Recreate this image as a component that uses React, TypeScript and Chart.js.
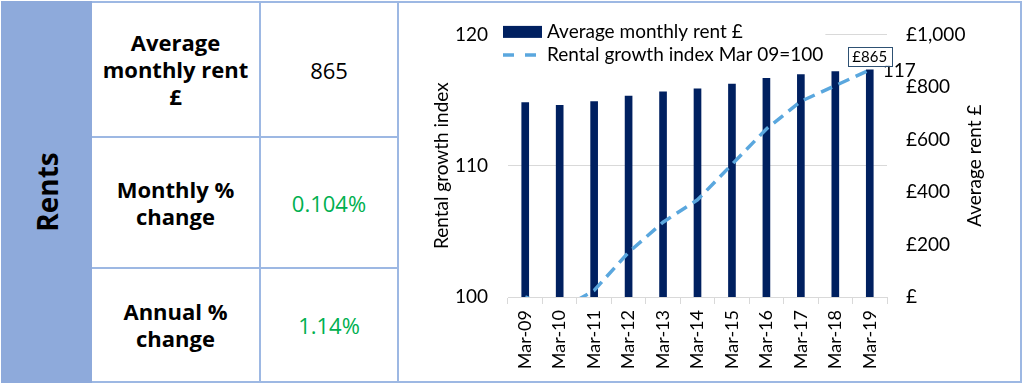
import React, { useEffect, useRef } from 'react';
import { Chart, registerables } from 'chart.js';

Chart.register(...registerables);

// ---- Data ----
const categories = ['Mar-09', 'Mar-10', 'Mar-11', 'Mar-12', 'Mar-13', 'Mar-14', 'Mar-15', 'Mar-16', 'Mar-17', 'Mar-18', 'Mar-19'];
const averageRent = [740, 730, 744, 765, 781, 793, 811, 833, 847, 858, 865];
const growthIndex = [100, 99.0, 100.5, 103.4, 105.7, 107.4, 110.1, 112.8, 114.9, 116.1, 117.3];
const indexTicks = [100, 110, 120];
const rentTicks = [0, 200, 400, 600, 800, 1000];
const rentTickLabels = ['£', '£200', '£400', '£600', '£800', '£1,000'];
const rentSeriesLabel = 'Average monthly rent £';
const indexSeriesLabel = 'Rental growth index Mar 09=100';
const leftAxisTitle = 'Rental growth index';
const rightAxisTitle = 'Average rent £';
const sectionTitle = 'Rents';
const rowLabels = [['Average', 'monthly rent', '£'], ['Monthly %', 'change'], ['Annual %', 'change']];
const rowValues = ['865', '0.104%', '1.14%'];
const rowValueColors = ['#000000', '#00b050', '#00b050'];

const BAR_COLOR = '#002060';
const LINE_COLOR = '#5aa7de';
const FONT = 'Lato';
const BORDER = '#9db8e3';

const overlayPlugin = {
  id: 'overlay',
  afterDatasetsDraw(chart: any) {
    const { ctx, chartArea } = chart;
    ctx.save();
    // legend
    ctx.font = `19px ${FONT}`;
    const x0 = chartArea.left - 5;
    const textX = chartArea.left + 39;
    const r1 = chartArea.top - 2.5;
    const r2 = chartArea.top + 20.5;
    const tw = Math.max(ctx.measureText(rentSeriesLabel).width, ctx.measureText(indexSeriesLabel).width);
    ctx.fillStyle = '#ffffff';
    ctx.fillRect(x0, r1 - 11, textX + tw + 2 - x0, r2 + 11 - (r1 - 11));
    ctx.fillStyle = BAR_COLOR;
    ctx.fillRect(x0, r1 - 6, 39, 12);
    ctx.strokeStyle = LINE_COLOR;
    ctx.lineWidth = 3.5;
    ctx.setLineDash([11, 11]);
    ctx.beginPath();
    ctx.moveTo(x0, r2);
    ctx.lineTo(x0 + 36, r2);
    ctx.stroke();
    ctx.setLineDash([]);
    ctx.fillStyle = '#000';
    ctx.textAlign = 'left';
    ctx.textBaseline = 'middle';
    ctx.fillText(rentSeriesLabel, textX, r1);
    ctx.fillText(indexSeriesLabel, textX, r2);

    // data label for last line point
    const lineMeta = chart.getDatasetMeta(0);
    const lastIdx = growthIndex.length - 1;
    const lp = lineMeta.data[lastIdx];
    ctx.fillText(String(Math.round(growthIndex[lastIdx])), lp.x + 13, lp.y + 1);

    // data label box for last bar
    const barMeta = chart.getDatasetMeta(1);
    const bp = barMeta.data[lastIdx];
    ctx.font = `15px ${FONT}`;
    const label = '£' + averageRent[lastIdx].toLocaleString('en-GB');
    const w = ctx.measureText(label).width + 9;
    const h = 19;
    const bx = bp.x - w / 2;
    const by = bp.y - 4 - h;
    ctx.fillStyle = '#fff';
    ctx.fillRect(bx, by, w, h);
    ctx.strokeStyle = '#2e5173';
    ctx.lineWidth = 1;
    ctx.strokeRect(Math.round(bx) + 0.5, Math.round(by) + 0.5, Math.round(w), h);
    ctx.fillStyle = '#000';
    ctx.textAlign = 'center';
    ctx.fillText(label, bp.x, by + h / 2 + 0.5);

    // right axis title (reads bottom to top)
    ctx.font = `19px ${FONT}`;
    ctx.translate(575, (chartArea.top + chartArea.bottom) / 2);
    ctx.rotate(-Math.PI / 2);
    ctx.textAlign = 'center';
    ctx.textBaseline = 'middle';
    ctx.fillText(rightAxisTitle, 0, 0);
    ctx.restore();
  },
};

function RentChart() {
  const ref = useRef<HTMLCanvasElement | null>(null);
  useEffect(() => {
    if (!ref.current) return;
    const tickFont = { family: FONT, size: 19 };
    const chart = new Chart(ref.current, {
      type: 'bar',
      data: {
        labels: categories,
        datasets: [
          {
            type: 'line',
            label: indexSeriesLabel,
            data: growthIndex,
            yAxisID: 'y',
            borderColor: LINE_COLOR,
            borderWidth: 3.5,
            borderDash: [12, 7],
            pointRadius: 0,
            tension: 0,
            fill: false,
            order: 0,
          } as any,
          {
            type: 'bar',
            label: rentSeriesLabel,
            data: averageRent,
            yAxisID: 'y1',
            backgroundColor: BAR_COLOR,
            barThickness: 7,
            order: 1,
          } as any,
        ],
      },
      options: {
        animation: false,
        responsive: false,
        layout: { padding: { top: 30, left: 0, right: 0, bottom: 0 } },
        plugins: { legend: { display: false }, tooltip: { enabled: false } },
        scales: {
          x: {
            type: 'category',
            offset: true,
            grid: { offset: true, drawOnChartArea: false, drawTicks: true, tickLength: 7, color: '#d9d9d9' },
            border: { display: true, color: '#d9d9d9' },
            ticks: { minRotation: 90, maxRotation: 90, autoSkip: false, padding: 6, color: '#000', font: { family: FONT, size: 18 } },
            afterFit: (s: any) => { s.height = 85; },
          },
          y: {
            position: 'left',
            min: 100,
            max: 120,
            afterBuildTicks: (s: any) => { s.ticks = indexTicks.map((v) => ({ value: v })); },
            grid: { color: '#d9d9d9', drawTicks: false },
            border: { display: false },
            ticks: { padding: 20, color: '#000', font: tickFont },
            title: { display: true, text: leftAxisTitle, color: '#000', font: tickFont, padding: { top: 30, bottom: 0 } },
            afterFit: (s: any) => { s.width = 108; },
          },
          y1: {
            position: 'right',
            min: 0,
            max: 1000,
            afterBuildTicks: (s: any) => { s.ticks = rentTicks.map((v) => ({ value: v })); },
            grid: { display: false, drawTicks: false },
            border: { display: false },
            ticks: {
              padding: 19,
              color: '#000',
              font: tickFont,
              callback: (_v: any, i: number) => rentTickLabels[i],
            },
            afterFit: (s: any) => { s.width = 133; },
          },
        },
      } as any,
      plugins: [overlayPlugin],
    });
    return () => chart.destroy();
  }, []);
  return <canvas ref={ref} width={620} height={379} style={{ display: 'block', width: 620, height: 379 }} />;
}

export default function App() {
  const rowTops = [3, 138, 269];
  const rowHeights = [133, 129, 112];
  const line = (s: React.CSSProperties) => <div style={{ position: 'absolute', background: BORDER, ...s }} />;
  return (
    <div style={{ position: 'absolute', left: 0, top: 0, width: 1024, height: 386, background: '#fff', fontFamily: '"Open Sans", sans-serif', overflow: 'hidden' }}>
      <div style={{ position: 'absolute', left: 1, top: 1, width: 1021, height: 382, border: `2px solid ${BORDER}`, boxSizing: 'border-box' }} />
      <div style={{ position: 'absolute', left: 1, top: 1, width: 91, height: 382, background: '#8eaadb' }} />
      {line({ left: 259, top: 1, width: 2, height: 382 })}
      {line({ left: 397, top: 1, width: 2, height: 382 })}
      {line({ left: 92, top: 136, width: 307, height: 2 })}
      {line({ left: 92, top: 267, width: 307, height: 2 })}
      <div style={{ position: 'absolute', left: 47, top: 192, transform: 'translate(-50%, -50%) rotate(-90deg)', fontSize: 28, fontWeight: 700, color: '#000', whiteSpace: 'nowrap' }}>{sectionTitle}</div>
      {rowLabels.map((lines, i) => (
        <div key={'l' + i} style={{ position: 'absolute', left: 92, top: rowTops[i], width: 167, height: rowHeights[i], display: 'flex', alignItems: 'center', justifyContent: 'center', textAlign: 'center', flexDirection: 'column', fontWeight: 700, fontSize: 22, lineHeight: '27px', color: '#000' }}>
          {lines.map((t, j) => <div key={j} style={{ whiteSpace: 'nowrap' }}>{t}</div>)}
        </div>
      ))}
      {rowValues.map((v, i) => (
        <div key={'v' + i} style={{ position: 'absolute', left: 261, top: rowTops[i], width: 136, height: rowHeights[i], display: 'flex', alignItems: 'center', justifyContent: 'center', fontSize: 22, color: rowValueColors[i] }}>{v}</div>
      ))}
      <div style={{ position: 'absolute', left: 400, top: 3, width: 620, height: 379 }}>
        <RentChart />
      </div>
    </div>
  );
}
